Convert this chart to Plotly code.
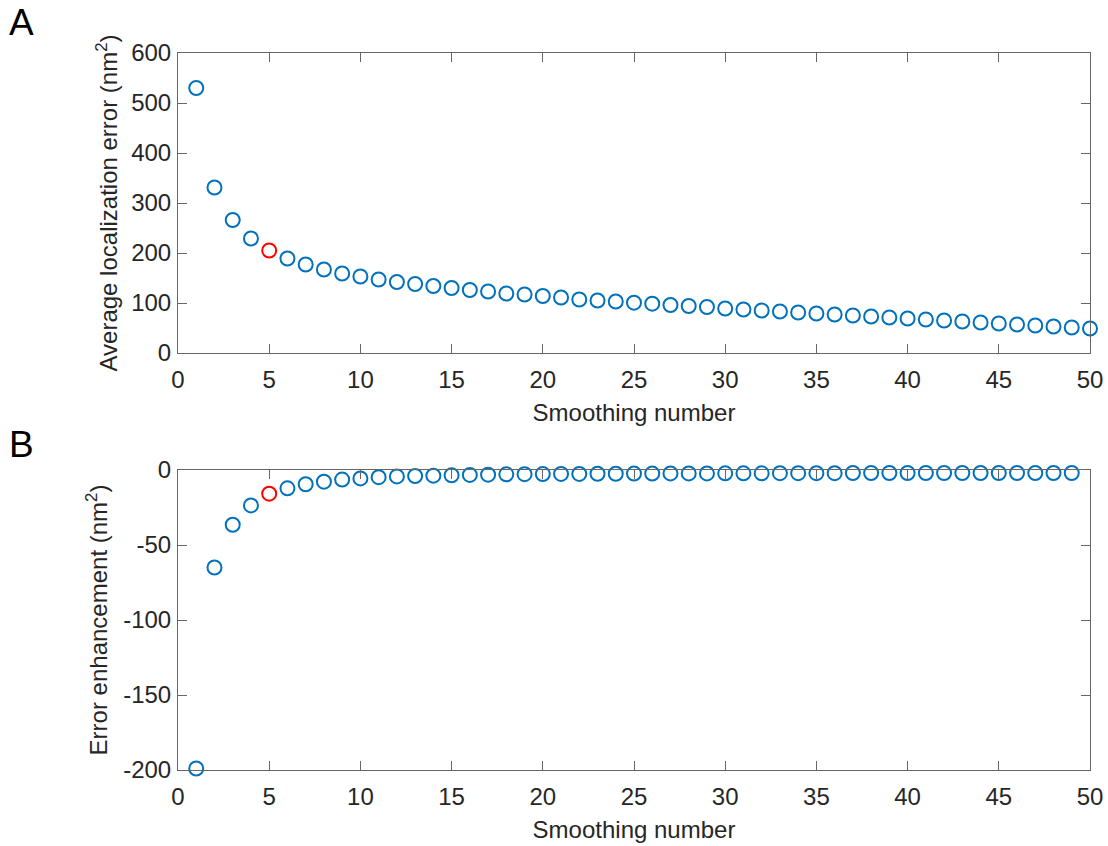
import plotly.graph_objects as go
from plotly.subplots import make_subplots

# Smoothing numbers
smoothing_a = list(range(1, 51))
smoothing_b = list(range(1, 50))

# Average localization error (nm^2) per smoothing number
avg_error = [530, 331, 266, 229, 205, 189, 177, 167, 159, 153,
             147, 142, 138, 134, 130, 126, 123, 119, 117, 114,
             111, 107, 105, 103, 100.6, 98.6, 96, 94, 92, 89,
             87, 85, 83, 81, 79, 77, 75, 73, 71, 69,
             67, 65, 63, 61, 59, 57, 55, 53, 51, 49]

# Error enhancement (nm^2) per smoothing number
enhancement = [-199, -65, -36.5, -23.6, -15.8, -12.2, -9.5, -7.8, -6.4, -5.6,
               -4.8, -4.3, -4.0, -3.8, -3.5, -3.3, -3.1, -2.9, -2.8, -2.7,
               -2.6, -2.6, -2.5, -2.5, -2.4, -2.4, -2.3, -2.3, -2.3, -2.2,
               -2.2, -2.2, -2.1, -2.1, -2.1, -2.1, -2.0, -2.0, -2.0, -2.0,
               -2.0, -2.0, -2.0, -2.0, -2.0, -2.0, -2.0, -2.0, -2.0]

# Tick labels
x_ticks = list(range(0, 51, 5))
a_ticks = [0, 100, 200, 300, 400, 500, 600]
b_ticks = [-200, -150, -100, -50, 0]
b_tick_text = ["-200", "-150", "-100", "-50", "0"]

highlight = 5
BLUE = "#0072BD"
RED = "#FF0000"
TEXT = "#262626"
FRAME = "#666666"

colors_a = [RED if n == highlight else BLUE for n in smoothing_a]
colors_b = [RED if n == highlight else BLUE for n in smoothing_b]

fig = make_subplots(rows=2, cols=1, vertical_spacing=117 / 717)

marker_common = dict(symbol="circle-open", size=14)

fig.add_trace(go.Scatter(
    x=smoothing_a, y=avg_error, mode="markers", cliponaxis=False,
    marker=dict(**marker_common, color=colors_a, line=dict(width=2, color=colors_a)),
    showlegend=False), row=1, col=1)

fig.add_trace(go.Scatter(
    x=smoothing_b, y=enhancement, mode="markers", cliponaxis=False,
    marker=dict(**marker_common, color=colors_b, line=dict(width=2, color=colors_b)),
    showlegend=False), row=2, col=1)

axis_style = dict(
    showline=True, linecolor=FRAME, linewidth=1, mirror="ticks",
    ticks="inside", ticklen=9, tickcolor=FRAME, tickwidth=1,
    showgrid=False, zeroline=False, automargin=False,
    tickfont=dict(size=24, color=TEXT),
)
title_font = dict(size=24, color=TEXT)

fig.update_xaxes(**axis_style, range=[0, 50], tickvals=x_ticks, ticklabelstandoff=5,
                 title=dict(text="Smoothing number", font=title_font, standoff=12))
fig.update_yaxes(**axis_style, ticklabelstandoff=1)

fig.update_yaxes(range=[0, 600], tickvals=a_ticks,
                 title=dict(text="Average localization error (nm<sup>2</sup>)",
                            font=title_font, standoff=6),
                 row=1, col=1)
fig.update_yaxes(range=[-200, 0], tickvals=b_ticks, ticktext=b_tick_text,
                 title=dict(text="Error enhancement (nm<sup>2</sup>)",
                            font=title_font, standoff=8),
                 row=2, col=1)

# Panel letters
fig.add_annotation(text="A", xref="paper", yref="paper", x=(7 - 178) / 912, y=(770 - 0) / 717,
                   xanchor="left", yanchor="top", showarrow=False, font=dict(size=37, color="#000000"))
fig.add_annotation(text="B", xref="paper", yref="paper", x=(7 - 178) / 912, y=(770 - 422) / 717,
                   xanchor="left", yanchor="top", showarrow=False, font=dict(size=37, color="#000000"))

fig.update_layout(
    width=1108, height=846,
    margin=dict(l=178, r=18, t=53, b=76),
    paper_bgcolor="white", plot_bgcolor="white",
    font=dict(family="Liberation Sans, Arial, sans-serif", color=TEXT),
)

fig.write_html("out.html")
